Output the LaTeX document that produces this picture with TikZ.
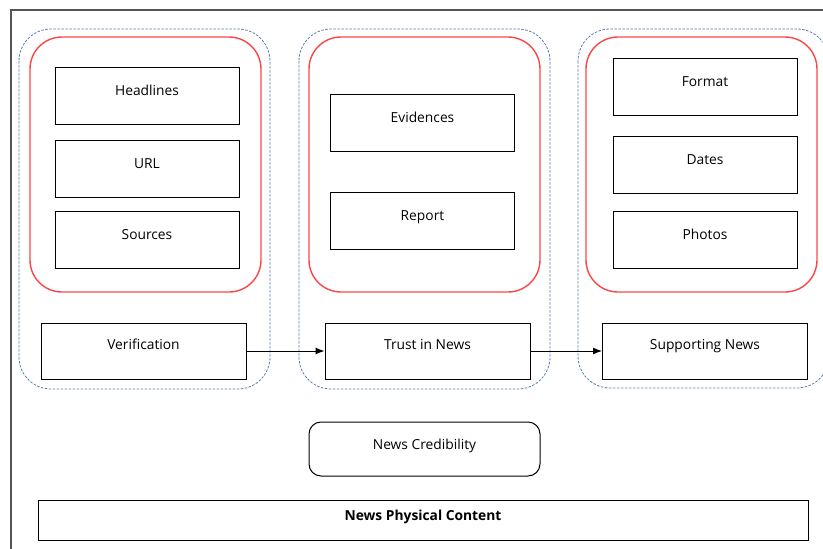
\documentclass[tikz,border=0pt]{standalone}
\usepackage{fontspec}
\setmainfont{Open Sans}
\usepackage{tikz}
\usetikzlibrary{arrows.meta}
\definecolor{groupblue}{RGB}{85, 125, 175}
\definecolor{groupred}{RGB}{250, 70, 70}
\definecolor{framegray}{RGB}{85, 85, 85}

\tikzset{
  itembox/.style={draw, line width=1pt, minimum width=184pt, minimum height=57pt,
    text height=10pt, text depth=10pt, inner sep=0pt},
  stagebox/.style={itembox, minimum width=205pt, minimum height=56pt, text depth=13pt},
  groupline/.style={groupblue, line width=0.8pt, dash pattern=on 2.5pt off 1.5pt, rounded corners=32pt},
  featline/.style={groupred, line width=1.4pt, rounded corners=32pt},
  flow/.style={-{Latex[length=9pt,width=7pt]}, line width=1pt}
}

\begin{document}
\begin{tikzpicture}[x=1pt, y=-1pt, font=\fontsize{13.8}{16}\selectfont]
    \useasboundingbox (0,0) rectangle (823,549);
    % Page frame
    \draw[framegray, line width=1.6pt] (11,549) -- (11,10) -- (823,10);

    % Stage groups
    \draw[groupline] (19,29) rectangle (270,389);
    \draw[groupline] (299,29) rectangle (550,389);
    \draw[groupline] (578,29) rectangle (829,388);

    % Feature groups
    \draw[featline] (30,37) rectangle (261,292);
    \draw[featline] (309,37) rectangle (540,292);
    \draw[featline] (586,37) rectangle (817,292);

    % Features
    \node[itembox] (headlines) at (147,95.5) {Headlines};
    \node[itembox] (url) at (147,168.5) {URL};
    \node[itembox] (sources) at (147,239.5) {Sources};

    \node[itembox] (evidences) at (422.5,122.5) {Evidences};
    \node[itembox] (report) at (422.5,220.5) {Report};

    \node[itembox] (format) at (705,86.5) {Format};
    \node[itembox] (dates) at (705,164.5) {Dates};
    \node[itembox] (photos) at (705,239.5) {Photos};

    % Stages
    \node[stagebox] (verif) at (143.5,351) {Verification};
    \node[stagebox] (trust) at (427.5,351) {Trust in News};
    \node[stagebox] (support) at (705,351) {Supporting News};

    \draw[flow] (verif) -- (trust);
    \draw[flow] (trust) -- (support);

    % Bottom
    \node[itembox, minimum width=231pt, minimum height=54pt, rounded corners=12pt] (cred) at (424.5,449) {News Credibility};
    \node[itembox, minimum width=770pt, minimum height=40pt, text height=8pt, text depth=8pt] (physical) at (423,520) {\textbf{News Physical Content}};
\end{tikzpicture}
\end{document}
